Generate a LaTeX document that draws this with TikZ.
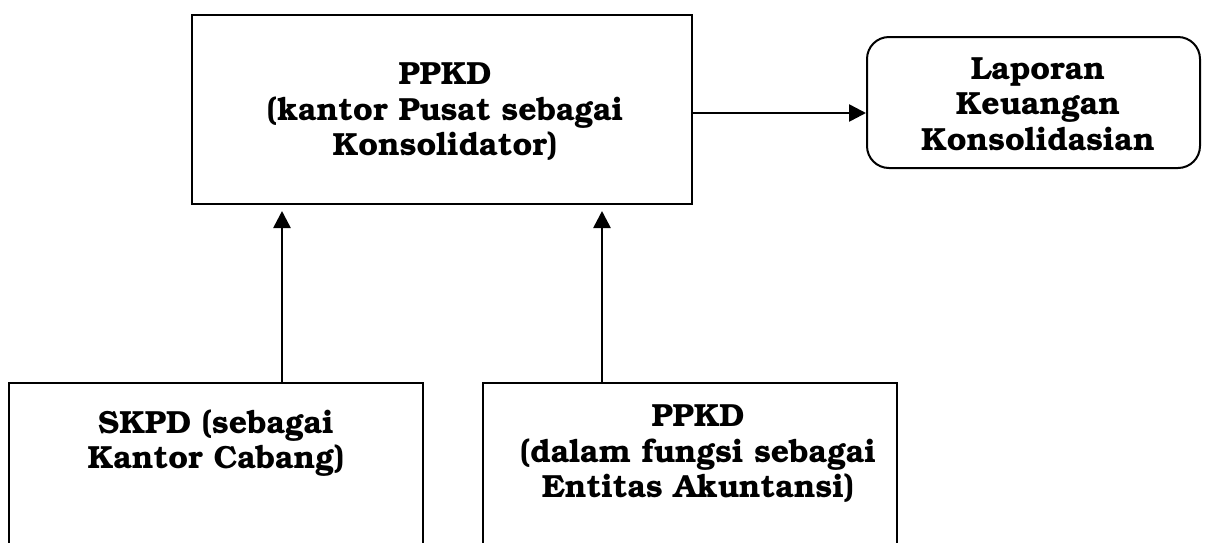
\documentclass[tikz,border=0pt]{standalone}
\usepackage[T1]{fontenc}
\usepackage{bookman}
\usetikzlibrary{arrows.meta}
\begin{document}
\begin{tikzpicture}[x=1pt,y=-1pt,
  box/.style={draw,line width=2pt,inner sep=0pt},
  txt/.style={align=center,font=\fontsize{32}{35.5}\selectfont\bfseries,inner sep=0pt},
  arr/.style={line width=2.6pt,-{Triangle[length=17pt,width=17pt]}}]
\clip (0,0) rectangle (1216,542);
\node[box,minimum width=500pt,minimum height=189pt] (top) at (442,109.5) {};
\node[txt] (toptxt) at (445,112) {PPKD\\(kantor Pusat sebagai\\Konsolidator)};
\node[box,rounded corners=22pt,minimum width=333pt,minimum height=131pt] (lap) at (1033.5,102.5) {};
\node[txt] (laptxt) at (1038,104) {Laporan\\Keuangan\\Konsolidasian};
\node[box,minimum width=414pt,minimum height=200pt,anchor=north] (skpd) at (216,382) {};
\node[txt] (skpdtxt) at (216,443) {SKPD (sebagai\\Kantor Cabang)};
\node[box,minimum width=414pt,minimum height=200pt,anchor=north] (ent) at (690,382) {};
\node[txt] (enttxt) at (698,454) {PPKD\\(dalam fungsi sebagai\\Entitas Akuntansi)};
\draw[arr] ([yshift=-3.5pt]top.east) -- ([yshift=-10.5pt]lap.west);
\draw[arr,shorten >=6pt] ([xshift=66pt]skpd.north) -- ([xshift=66pt]skpd.north |- top.south);
\draw[arr,shorten >=6pt] ([xshift=-88pt]ent.north) -- ([xshift=-88pt]ent.north |- top.south);
\end{tikzpicture}
\end{document}
